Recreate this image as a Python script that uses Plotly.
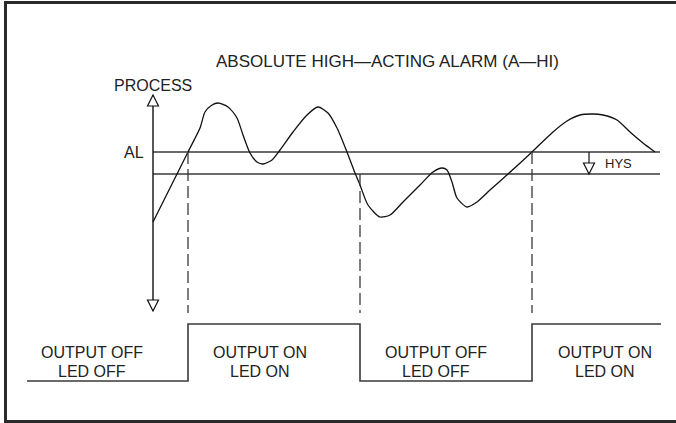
import plotly.graph_objects as go

# ---------------- data (diagram units, y increases upward) ----------------
time = [153, 188, 200, 205, 212, 218, 228, 237, 243, 250, 257, 263, 272, 280, 293,
        307, 318, 328, 337, 347, 355, 360, 368, 380, 390, 403, 420, 433, 442, 447,
        452, 457, 467, 477, 490, 508, 532, 553, 567, 580, 593, 603, 617, 630, 643, 655]
process = [201, 271, 295, 311, 318, 320, 316, 305, 288, 270, 261, 259, 263, 273, 291,
           308, 316, 310, 295, 271, 250, 238, 218, 206, 208, 221, 238, 251, 255, 253,
           241, 225, 216, 221, 233, 249, 271, 291, 302, 308, 309, 308, 303, 291, 280, 271]

alarm_level = 271          # AL
hysteresis = 22            # HYS band below AL
switch_times = [188, 360, 532]
output_states = ["OFF", "ON", "OFF", "ON"]
output_levels = {"OFF": 42, "ON": 99}
time_start, time_end = 27, 661
axis_bottom, axis_top = 112, 328
guide_bottom = 110

title_text = "ABSOLUTE HIGH—ACTING ALARM (A—HI)"
axis_label = "PROCESS"
al_label = "AL"
hys_label = "HYS"
state_labels = [("OUTPUT OFF", "LED OFF"), ("OUTPUT ON", "LED ON"),
                ("OUTPUT OFF", "LED OFF"), ("OUTPUT ON", "LED ON")]
state_label_x = [92, 260, 436, 605]

# ---------------- figure ----------------
W, H = 676, 423
LINE = "#3a3a3a"
FONT = "Liberation Sans, Arial, sans-serif"
fig = go.Figure()

# reference lines: AL and AL - HYS
for lvl in (alarm_level, alarm_level - hysteresis):
    fig.add_trace(go.Scatter(x=[time[0], time_end - 1], y=[lvl, lvl], mode="lines",
                             line=dict(color=LINE, width=1.6), hoverinfo="skip"))

# process axis
fig.add_trace(go.Scatter(x=[time[0], time[0]], y=[axis_bottom, axis_top], mode="lines",
                         line=dict(color="#111", width=1.4), hoverinfo="skip"))

# process curve
fig.add_trace(go.Scatter(x=time, y=process, mode="lines",
                         line=dict(color="#111", width=1.3, shape="spline", smoothing=0.7),
                         hoverinfo="skip"))

# dashed switching guides
for i, t in enumerate(switch_times):
    new_state = output_states[i + 1]
    top = alarm_level if new_state == "ON" else alarm_level - hysteresis
    fig.add_trace(go.Scatter(x=[t, t], y=[top, guide_bottom], mode="lines",
                             line=dict(color=LINE, width=1.3, dash="12px,5px"),
                             hoverinfo="skip"))

# output step waveform
sx, sy = [time_start], [output_levels[output_states[0]]]
for i, t in enumerate(switch_times):
    sx += [t, t]
    sy += [output_levels[output_states[i]], output_levels[output_states[i + 1]]]
sx.append(time_end)
sy.append(output_levels[output_states[-1]])
fig.add_trace(go.Scatter(x=sx, y=sy, mode="lines", line=dict(color=LINE, width=1.6),
                         hoverinfo="skip"))

shapes = []
# hollow arrow heads on the process axis
ah, aw = 11, 5.5
ax0 = time[0]
shapes.append(dict(type="path", path=f"M{ax0},{axis_top} L{ax0-aw},{axis_top-ah} L{ax0+aw},{axis_top-ah} Z",
                   line=dict(color="#111", width=1.2), fillcolor="white"))
shapes.append(dict(type="path", path=f"M{ax0},{axis_bottom} L{ax0-aw},{axis_bottom+ah} L{ax0+aw},{axis_bottom+ah} Z",
                   line=dict(color="#111", width=1.2), fillcolor="white"))
# hysteresis arrow
hx = 589
lo = alarm_level - hysteresis
shapes.append(dict(type="line", x0=hx, x1=hx, y0=alarm_level, y1=lo, line=dict(color="#111", width=1.2)))
shapes.append(dict(type="path", path=f"M{hx},{lo} L{hx-aw},{lo+ah} L{hx+aw},{lo+ah} Z",
                   line=dict(color="#111", width=1.2), fillcolor="white"))
# frame
shapes.append(dict(type="rect", x0=5.5, x1=W + 5, y0=1.5, y1=H - 2.5,
                   line=dict(color="#2a2a2a", width=3), fillcolor="rgba(0,0,0,0)", layer="above"))

annotations = [
    dict(x=387, y=362, text=title_text, font=dict(size=17)),
    dict(x=153, y=338, text=axis_label, font=dict(size=16)),
    dict(x=134, y=alarm_level, text=al_label, font=dict(size=16)),
    dict(x=618, y=alarm_level - hysteresis / 2, text=hys_label, font=dict(size=13)),
]
for (l1, l2), lx in zip(state_labels, state_label_x):
    annotations.append(dict(x=lx, y=71, text=l1, font=dict(size=16)))
    annotations.append(dict(x=lx, y=52, text=l2, font=dict(size=16)))
for a in annotations:
    a.update(showarrow=False, xanchor="center", yanchor="middle", xref="x", yref="y")
    a["font"].update(family=FONT, color="#222")

fig.update_layout(
    width=W, height=H, autosize=False,
    margin=dict(l=0, r=0, t=0, b=0),
    paper_bgcolor="white", plot_bgcolor="white",
    showlegend=False,
    xaxis=dict(range=[0, W], visible=False, fixedrange=True),
    yaxis=dict(range=[0, H], visible=False, fixedrange=True),
    shapes=shapes, annotations=annotations,
)

fig.write_html("out.html", config={"displayModeBar": False},
               post_script="document.body.style.margin='0';document.body.style.overflow='hidden';")
